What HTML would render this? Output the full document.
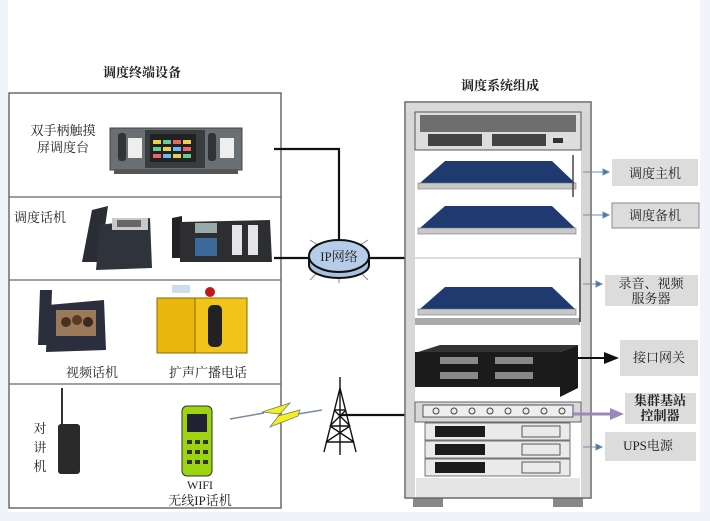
<!DOCTYPE html>
<html><head><meta charset="utf-8"><style>
html,body{margin:0;padding:0;background:#fff}
svg{display:block}
text{font-family:"Liberation Serif","Noto Serif CJK SC","Noto Sans CJK SC",serif;fill:#222}
</style></head><body>
<svg width="710" height="521" viewBox="0 0 710 521" xmlns="http://www.w3.org/2000/svg">
<rect x="0" y="0" width="710" height="521" fill="#fff"/>
<rect x="0" y="0" width="8" height="521" fill="#f1f5f9"/>
<rect x="700" y="0" width="10" height="521" fill="#f1f5f9"/>
<rect x="0" y="512" width="710" height="9" fill="#eef2f6"/>
<!-- titles -->
<text x="142" y="77" font-size="13" text-anchor="middle" font-weight="bold">调度终端设备</text>
<text x="500" y="90" font-size="13" text-anchor="middle" font-weight="bold">调度系统组成</text>
<!-- left panel -->
<rect x="9" y="93" width="272" height="415" fill="#fff" stroke="#555" stroke-width="1.3"/>
<line x1="9" y1="197" x2="281" y2="197" stroke="#666" stroke-width="1.2"/>
<line x1="9" y1="280" x2="281" y2="280" stroke="#666" stroke-width="1.2"/>
<line x1="9" y1="384" x2="281" y2="384" stroke="#666" stroke-width="1.2"/>
<text x="63" y="135" font-size="13" text-anchor="middle">双手柄触摸</text>
<text x="63" y="152" font-size="13" text-anchor="middle">屏调度台</text>
<text x="40" y="222" font-size="13" text-anchor="middle">调度话机</text>
<text x="92" y="377" font-size="13" text-anchor="middle">视频话机</text>
<text x="208" y="377" font-size="13" text-anchor="middle">扩声广播电话</text>
<text x="40" y="433" font-size="13" text-anchor="middle">对</text>
<text x="40" y="452" font-size="13" text-anchor="middle">讲</text>
<text x="40" y="471" font-size="13" text-anchor="middle">机</text>
<text x="200" y="489" font-size="12" text-anchor="middle">WIFI</text>
<text x="200" y="505" font-size="13" text-anchor="middle">无线IP话机</text>
<!-- console -->
<rect x="110" y="128" width="132" height="42" fill="#6a6f74" stroke="#444"/>
<rect x="114" y="170" width="124" height="4" fill="#555"/>
<rect x="145" y="130" width="60" height="38" fill="#3a3d40"/>
<rect x="150" y="134" width="46" height="28" fill="#222"/>
<g fill="#e7d04a"><rect x="153" y="140" width="8" height="4"/><rect x="163" y="140" width="8" height="4" fill="#6c9"/><rect x="173" y="140" width="8" height="4" fill="#e66"/><rect x="183" y="140" width="8" height="4"/>
<rect x="153" y="147" width="8" height="4" fill="#6c9"/><rect x="163" y="147" width="8" height="4"/><rect x="173" y="147" width="8" height="4" fill="#6bf"/><rect x="183" y="147" width="8" height="4" fill="#e66"/>
<rect x="153" y="154" width="8" height="4" fill="#e66"/><rect x="163" y="154" width="8" height="4" fill="#6bf"/><rect x="173" y="154" width="8" height="4"/><rect x="183" y="154" width="8" height="4" fill="#6c9"/></g>
<rect x="118" y="133" width="8" height="28" rx="3" fill="#333"/>
<rect x="128" y="138" width="14" height="20" fill="#eee"/>
<rect x="208" y="133" width="8" height="28" rx="3" fill="#333"/>
<rect x="220" y="138" width="14" height="20" fill="#eee"/>
<!-- phones -->
<path d="M92 210 L108 206 L100 262 L82 262 Z" fill="#2a2d33"/>
<path d="M100 225 L150 218 L152 268 L96 270 Z" fill="#2f333b"/>
<rect x="112" y="218" width="36" height="12" fill="#c7c9cb"/>
<rect x="117" y="220" width="24" height="7" fill="#666"/>
<path d="M172 218 L182 216 L182 258 L172 258 Z" fill="#222"/>
<path d="M180 222 L270 220 L272 262 L180 262 Z" fill="#2c2e31"/>
<rect x="195" y="223" width="22" height="10" fill="#9aa"/>
<rect x="232" y="225" width="10" height="30" fill="#e4e4e4"/><rect x="248" y="225" width="10" height="30" fill="#e4e4e4"/>
<rect x="195" y="238" width="22" height="18" fill="#3b6a9a"/>
<!-- video phone -->
<path d="M40 290 L52 290 L50 345 L38 345 Z" fill="#2a2d3a"/>
<path d="M48 305 L104 300 L106 350 L46 352 Z" fill="#2b2e3c"/>
<rect x="56" y="310" width="40" height="26" fill="#9b7a5c"/>
<circle cx="66" cy="322" r="5" fill="#4a3222"/><circle cx="77" cy="320" r="5" fill="#5a3a22"/><circle cx="88" cy="322" r="5" fill="#3a2a1a"/>
<!-- yellow phone -->
<rect x="157" y="298" width="38" height="55" fill="#e8b80e" stroke="#8a6a00"/>
<rect x="195" y="298" width="52" height="55" fill="#f0c41a" stroke="#8a6a00"/>
<rect x="208" y="305" width="14" height="42" rx="5" fill="#222"/>
<circle cx="210" cy="292" r="5" fill="#c0181a"/>
<rect x="172" y="285" width="18" height="8" fill="#cde"/>
<!-- walkie -->
<line x1="62" y1="388" x2="62" y2="425" stroke="#333" stroke-width="2"/>
<rect x="58" y="424" width="22" height="50" rx="3" fill="#2a2a2a"/>
<!-- wifi phone -->
<rect x="182" y="406" width="30" height="70" rx="5" fill="#9cd40f" stroke="#333"/>
<rect x="187" y="414" width="20" height="18" fill="#223"/>
<g fill="#333"><rect x="187" y="440" width="5" height="4"/><rect x="195" y="440" width="5" height="4"/><rect x="203" y="440" width="5" height="4"/><rect x="187" y="450" width="5" height="4"/><rect x="195" y="450" width="5" height="4"/><rect x="203" y="450" width="5" height="4"/><rect x="187" y="460" width="5" height="4"/><rect x="195" y="460" width="5" height="4"/><rect x="203" y="460" width="5" height="4"/></g>
<!-- lightning -->
<line x1="230" y1="419" x2="264" y2="413" stroke="#7a8aa0" stroke-width="1.5"/>
<path d="M262 412 L290 403 L278 416 L300 410 L298 416 L270 427 L280 414 Z" fill="#f3f01a" stroke="#777" stroke-width="0.8"/>
<line x1="298" y1="414" x2="322" y2="410" stroke="#7a8aa0" stroke-width="1.5"/>
<!-- connectors -->
<polyline points="274,149 339,149 339,240" fill="none" stroke="#111" stroke-width="2.2"/>
<line x1="274" y1="258" x2="310" y2="258" stroke="#111" stroke-width="2.2"/>
<line x1="368" y1="258" x2="406" y2="258" stroke="#111" stroke-width="2.2"/>
<line x1="341" y1="415" x2="416" y2="415" stroke="#111" stroke-width="2.2"/>
<!-- IP cloud -->
<g stroke="#888" stroke-width="1"><line x1="310" y1="240" x2="318" y2="245"/><line x1="368" y1="240" x2="360" y2="245"/><line x1="310" y1="280" x2="316" y2="274"/><line x1="368" y1="280" x2="362" y2="274"/><line x1="339" y1="278" x2="339" y2="283"/></g>
<path d="M309 258 L309 265 A30 13 0 0 0 369 265 L369 258" fill="#a8c1df" stroke="#111" stroke-width="2"/>
<ellipse cx="339" cy="256" rx="30" ry="16" fill="#b5cde8" stroke="#111" stroke-width="2"/>
<text x="339" y="261" font-size="13" text-anchor="middle" fill="#2a3a6a">IP网络</text>
<!-- tower -->
<g stroke="#111" stroke-width="1.4" fill="none">
<line x1="340" y1="377" x2="340" y2="455"/>
<line x1="340" y1="388" x2="324" y2="452"/><line x1="340" y1="388" x2="356" y2="452"/>
<line x1="334" y1="410" x2="346" y2="410"/><line x1="330" y1="426" x2="350" y2="426"/><line x1="326" y1="442" x2="354" y2="442"/>
<line x1="334" y1="410" x2="350" y2="426"/><line x1="346" y1="410" x2="330" y2="426"/><line x1="330" y1="426" x2="354" y2="442"/><line x1="350" y1="426" x2="326" y2="442"/>
</g>
<!-- rack -->
<rect x="413" y="497" width="30" height="10" fill="#888"/>
<rect x="553" y="497" width="30" height="10" fill="#888"/>
<rect x="405" y="102" width="186" height="396" fill="#fff" stroke="#666" stroke-width="1.5"/>
<rect x="406" y="103" width="9" height="394" fill="#d7d7d7"/>
<rect x="581" y="103" width="9" height="394" fill="#d7d7d7"/>
<rect x="406" y="103" width="184" height="9" fill="#d9d9d9"/>
<rect x="415" y="112" width="166" height="38" fill="#ddd" stroke="#555"/>
<rect x="420" y="115" width="156" height="17" fill="#6e6e6e"/>
<rect x="428" y="134" width="54" height="12" fill="#444"/>
<rect x="492" y="134" width="54" height="12" fill="#444"/>
<rect x="553" y="138" width="10" height="5" fill="#333"/>
<!-- servers -->
<g>
<path d="M445 161 L552 161 L575 183 L420 183 Z" fill="#1e3a6e"/>
<rect x="418" y="183" width="158" height="6" fill="#c8c8c8" stroke="#777" stroke-width="0.6"/>
<path d="M445 206 L552 206 L575 228 L420 228 Z" fill="#1e3a6e"/>
<rect x="418" y="228" width="158" height="6" fill="#c8c8c8" stroke="#777" stroke-width="0.6"/>
<path d="M445 287 L552 287 L575 309 L420 309 Z" fill="#1e3a6e"/>
<rect x="418" y="309" width="158" height="6" fill="#c8c8c8" stroke="#777" stroke-width="0.6"/>
<rect x="415" y="318" width="165" height="7" fill="#aaa"/>
</g>
<line x1="573" y1="155" x2="573" y2="197" stroke="#444" stroke-width="1.5"/>
<line x1="580" y1="258" x2="580" y2="322" stroke="#333" stroke-width="1.5"/>
<line x1="415" y1="258" x2="580" y2="258" stroke="#bbb" stroke-width="1"/>
<!-- gateway -->
<path d="M418 352 L440 345 L578 345 L560 352 Z" fill="#333"/>
<path d="M560 352 L578 345 L578 388 L560 397 Z" fill="#1a1a1a"/>
<rect x="415" y="352" width="145" height="35" fill="#1b1b1b"/>
<g fill="#888"><rect x="440" y="357" width="38" height="7"/><rect x="495" y="357" width="38" height="7"/><rect x="440" y="372" width="38" height="7"/><rect x="495" y="372" width="38" height="7"/></g>
<!-- controller -->
<rect x="415" y="402" width="166" height="20" fill="#d8d8d8" stroke="#666"/>
<rect x="423" y="405" width="150" height="12" fill="#eee" stroke="#555"/>
<g fill="none" stroke="#444"><circle cx="436" cy="411" r="3"/><circle cx="454" cy="411" r="3"/><circle cx="472" cy="411" r="3"/><circle cx="490" cy="411" r="3"/><circle cx="508" cy="411" r="3"/><circle cx="526" cy="411" r="3"/><circle cx="544" cy="411" r="3"/><circle cx="562" cy="411" r="3"/></g>
<!-- UPS -->
<g stroke="#555" stroke-width="0.8">
<rect x="425" y="423" width="145" height="17" fill="#eaeaea"/>
<rect x="425" y="441" width="145" height="17" fill="#eaeaea"/>
<rect x="425" y="459" width="145" height="17" fill="#eaeaea"/>
</g>
<g fill="#1b1b1b"><rect x="435" y="426" width="50" height="11"/><rect x="435" y="444" width="50" height="11"/><rect x="435" y="462" width="50" height="11"/></g>
<g fill="#555"><rect x="522" y="426" width="38" height="11" fill="none" stroke="#555"/><rect x="522" y="444" width="38" height="11" fill="none" stroke="#555"/><rect x="522" y="462" width="38" height="11" fill="none" stroke="#555"/></g>
<rect x="416" y="478" width="164" height="19" fill="#e4e4e4"/>
<!-- right labels -->
<g fill="#dcdcdc">
<rect x="612" y="159" width="86" height="27"/>
<rect x="612" y="203" width="87" height="25" stroke="#888"/>
<rect x="605" y="275" width="93" height="31"/>
<rect x="620" y="340" width="78" height="36"/>
<rect x="625" y="393" width="71" height="31"/>
<rect x="605" y="432" width="91" height="29"/>
</g>
<text x="655" y="178" font-size="13" text-anchor="middle">调度主机</text>
<text x="655" y="220" font-size="13" text-anchor="middle">调度备机</text>
<text x="651" y="288" font-size="13" text-anchor="middle">录音、视频</text>
<text x="651" y="303" font-size="13" text-anchor="middle">服务器</text>
<text x="659" y="362" font-size="13" text-anchor="middle">接口网关</text>
<text x="660" y="405" font-size="13" text-anchor="middle" font-weight="bold">集群基站</text>
<text x="660" y="420" font-size="13" text-anchor="middle" font-weight="bold">控制器</text>
<text x="648" y="450" font-size="13" text-anchor="middle">UPS电源</text>
<!-- arrows -->
<g stroke="#6e8fb0" stroke-width="1" fill="#4b74a0">
<line x1="583" y1="172" x2="604" y2="172"/><path d="M609 172 L603 169 L603 175 Z"/>
<line x1="583" y1="215" x2="604" y2="215"/><path d="M609 215 L603 212 L603 218 Z"/>
<line x1="583" y1="284" x2="597" y2="284"/><path d="M602 284 L596 281 L596 287 Z"/>
<line x1="583" y1="447" x2="597" y2="447"/><path d="M602 447 L596 444 L596 450 Z"/>
</g>
<line x1="578" y1="358" x2="605" y2="358" stroke="#111" stroke-width="2"/>
<path d="M619 358 L604 352 L604 364 Z" fill="#111"/>
<line x1="572" y1="414" x2="612" y2="414" stroke="#9a88b8" stroke-width="3"/>
<path d="M624 414 L610 408 L610 420 Z" fill="#9a88b8"/>
</svg>
</body></html>
